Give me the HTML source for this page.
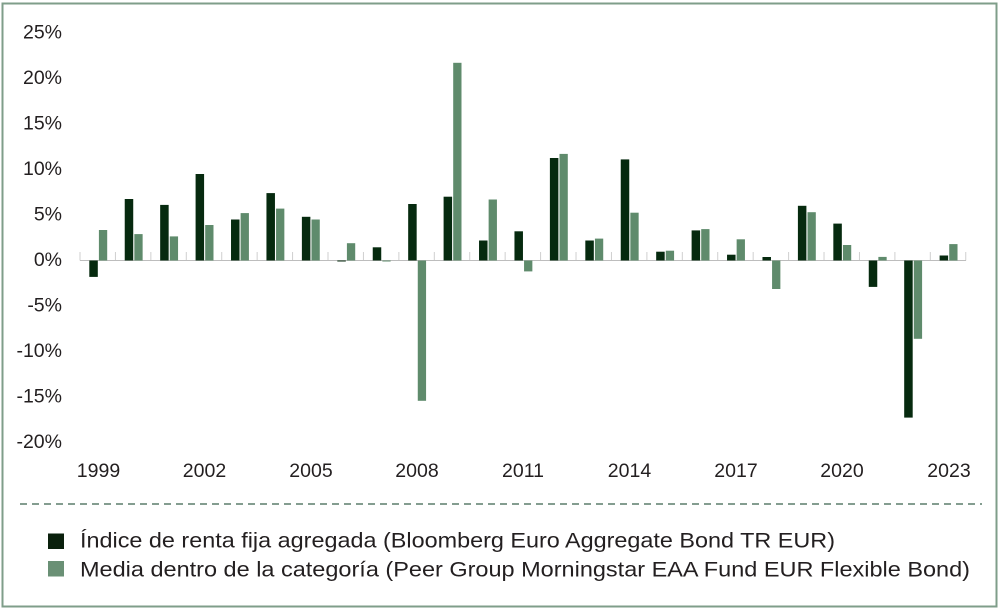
<!DOCTYPE html>
<html><head><meta charset="utf-8"><style>
html,body{margin:0;padding:0;background:#fff;}
svg{display:block;}
text{font-family:"Liberation Sans",sans-serif;fill:#231f20;}
</style></head><body>
<svg width="1000" height="610" viewBox="0 0 1000 610" xmlns="http://www.w3.org/2000/svg">
<rect x="0" y="0" width="1000" height="610" fill="#fff"/>
<rect x="2.5" y="3.5" width="994" height="603" fill="none" stroke="#7f9e8a" stroke-width="2"/>
<g font-size="19.5" text-anchor="end">
<text x="62" y="38.5">25%</text>
<text x="62" y="84">20%</text>
<text x="62" y="129.5">15%</text>
<text x="62" y="175">10%</text>
<text x="62" y="220.5">5%</text>
<text x="62" y="266">0%</text>
<text x="62" y="311.5">-5%</text>
<text x="62" y="357">-10%</text>
<text x="62" y="402.5">-15%</text>
<text x="62" y="448">-20%</text>
</g>
<g stroke="#cfcfcf" stroke-width="1">
<line x1="80" y1="252" x2="80" y2="260.5"/><line x1="115.43" y1="252" x2="115.43" y2="260.5"/><line x1="150.86" y1="252" x2="150.86" y2="260.5"/><line x1="186.29" y1="252" x2="186.29" y2="260.5"/><line x1="221.72" y1="252" x2="221.72" y2="260.5"/><line x1="257.15" y1="252" x2="257.15" y2="260.5"/><line x1="292.58" y1="252" x2="292.58" y2="260.5"/><line x1="328.01" y1="252" x2="328.01" y2="260.5"/><line x1="363.44" y1="252" x2="363.44" y2="260.5"/><line x1="398.87" y1="252" x2="398.87" y2="260.5"/><line x1="434.3" y1="252" x2="434.3" y2="260.5"/><line x1="469.73" y1="252" x2="469.73" y2="260.5"/><line x1="505.16" y1="252" x2="505.16" y2="260.5"/><line x1="540.59" y1="252" x2="540.59" y2="260.5"/><line x1="576.02" y1="252" x2="576.02" y2="260.5"/><line x1="611.45" y1="252" x2="611.45" y2="260.5"/><line x1="646.88" y1="252" x2="646.88" y2="260.5"/><line x1="682.31" y1="252" x2="682.31" y2="260.5"/><line x1="717.74" y1="252" x2="717.74" y2="260.5"/><line x1="753.17" y1="252" x2="753.17" y2="260.5"/><line x1="788.6" y1="252" x2="788.6" y2="260.5"/><line x1="824.03" y1="252" x2="824.03" y2="260.5"/><line x1="859.46" y1="252" x2="859.46" y2="260.5"/><line x1="894.89" y1="252" x2="894.89" y2="260.5"/><line x1="930.32" y1="252" x2="930.32" y2="260.5"/><line x1="965.75" y1="252" x2="965.75" y2="260.5"/>
</g>
<line x1="80" y1="260.5" x2="966" y2="260.5" stroke="#bdbdbd" stroke-width="1"/>
<g fill="#062a0f">
<rect x="89.3" y="260.5" width="8.5" height="16.4"/>
<rect x="124.73" y="199.0" width="8.5" height="61.5"/>
<rect x="160.16" y="204.9" width="8.5" height="55.6"/>
<rect x="195.59" y="174.0" width="8.5" height="86.5"/>
<rect x="231.02" y="219.5" width="8.5" height="41.0"/>
<rect x="266.45" y="193.1" width="8.5" height="67.4"/>
<rect x="301.88" y="216.8" width="8.5" height="43.7"/>
<rect x="337.31" y="260.5" width="8.5" height="1"/>
<rect x="372.74" y="247.3" width="8.5" height="13.2"/>
<rect x="408.17" y="204.0" width="8.5" height="56.5"/>
<rect x="443.6" y="196.7" width="8.5" height="63.8"/>
<rect x="479.03" y="240.5" width="8.5" height="20.0"/>
<rect x="514.46" y="231.3" width="8.5" height="29.2"/>
<rect x="549.89" y="158.0" width="8.5" height="102.5"/>
<rect x="585.32" y="240.5" width="8.5" height="20.0"/>
<rect x="620.75" y="159.4" width="8.5" height="101.1"/>
<rect x="656.18" y="251.7" width="8.5" height="8.8"/>
<rect x="691.61" y="230.4" width="8.5" height="30.1"/>
<rect x="727.04" y="254.7" width="8.5" height="5.8"/>
<rect x="762.47" y="257.0" width="8.5" height="3.5"/>
<rect x="797.9" y="205.8" width="8.5" height="54.7"/>
<rect x="833.33" y="223.6" width="8.5" height="36.9"/>
<rect x="868.76" y="260.5" width="8.5" height="26.4"/>
<rect x="904.19" y="260.5" width="8.5" height="157.1"/>
<rect x="939.62" y="255.5" width="8.5" height="5.0"/>
</g>
<g fill="#5f8b6c">
<rect x="98.9" y="230.0" width="8.3" height="30.5"/>
<rect x="134.33" y="234.1" width="8.3" height="26.4"/>
<rect x="169.76" y="236.4" width="8.3" height="24.1"/>
<rect x="205.19" y="225.0" width="8.3" height="35.5"/>
<rect x="240.62" y="213.1" width="8.3" height="47.4"/>
<rect x="276.05" y="208.6" width="8.3" height="51.9"/>
<rect x="311.48" y="219.5" width="8.3" height="41.0"/>
<rect x="346.91" y="243.2" width="8.3" height="17.3"/>
<rect x="382.34" y="260.5" width="8.3" height="1"/>
<rect x="417.77" y="260.5" width="8.3" height="140.3"/>
<rect x="453.2" y="62.8" width="8.3" height="197.7"/>
<rect x="488.63" y="199.5" width="8.3" height="61.0"/>
<rect x="524.06" y="260.5" width="8.3" height="10.9"/>
<rect x="559.49" y="153.9" width="8.3" height="106.6"/>
<rect x="594.92" y="238.6" width="8.3" height="21.9"/>
<rect x="630.35" y="212.7" width="8.3" height="47.8"/>
<rect x="665.78" y="250.7" width="8.3" height="9.8"/>
<rect x="701.21" y="229.1" width="8.3" height="31.4"/>
<rect x="736.64" y="239.3" width="8.3" height="21.2"/>
<rect x="772.07" y="260.5" width="8.3" height="28.5"/>
<rect x="807.5" y="212.2" width="8.3" height="48.3"/>
<rect x="842.93" y="245.0" width="8.3" height="15.5"/>
<rect x="878.36" y="256.9" width="8.3" height="3.6"/>
<rect x="913.79" y="260.5" width="8.3" height="78.3"/>
<rect x="949.22" y="244.1" width="8.3" height="16.4"/>
</g>
<g font-size="19.5" text-anchor="middle">
<text x="98.5" y="477">1999</text>
<text x="204.5" y="477">2002</text>
<text x="311" y="477">2005</text>
<text x="417" y="477">2008</text>
<text x="523" y="477">2011</text>
<text x="629.5" y="477">2014</text>
<text x="736" y="477">2017</text>
<text x="842" y="477">2020</text>
<text x="949" y="477">2023</text>
</g>
<line x1="20" y1="504" x2="982" y2="504" stroke="#5c7d6c" stroke-width="1.5" stroke-dasharray="7 5"/>
<rect x="48" y="533.5" width="16" height="15.5" fill="#0a200c"/>
<rect x="48" y="561" width="16" height="15.5" fill="#6a9075"/>
<g font-size="21">
<text x="80" y="547.5" textLength="755" lengthAdjust="spacingAndGlyphs">Índice de renta fija agregada (Bloomberg Euro Aggregate Bond TR EUR)</text>
<text x="80" y="576.5" textLength="890" lengthAdjust="spacingAndGlyphs">Media dentro de la categoría (Peer Group Morningstar EAA Fund EUR Flexible Bond)</text>
</g>
</svg>
</body></html>
